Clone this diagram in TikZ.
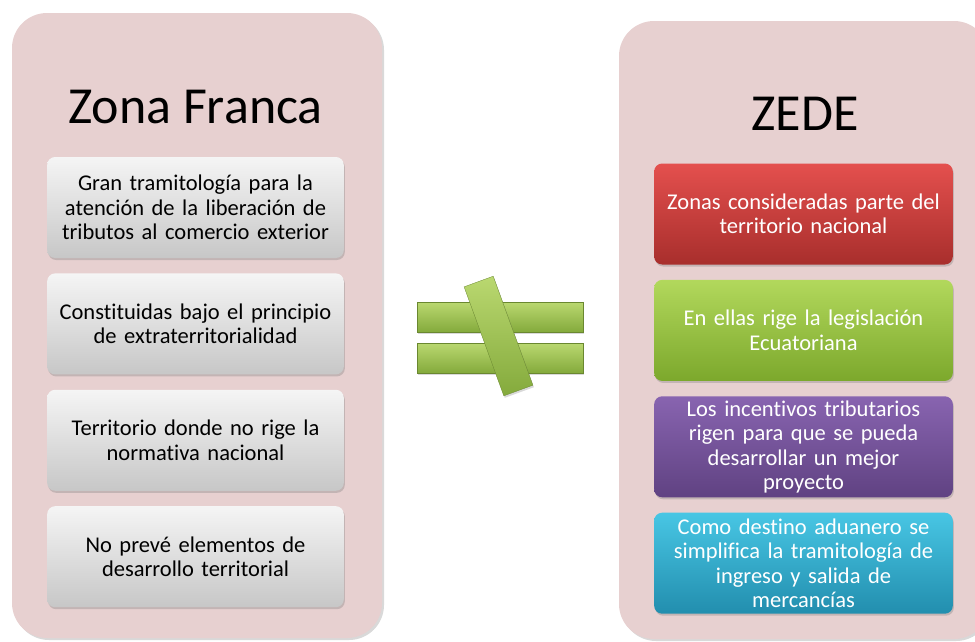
\documentclass[tikz,border=0pt]{standalone}
\usepackage{fontspec}
\setmainfont{Carlito}[Ligatures=CommonOff]
\usetikzlibrary{positioning,shadows}

\definecolor{panelpink}{RGB}{231,208,208}
\definecolor{redtop}{RGB}{228,80,78}
\definecolor{redbot}{RGB}{168,46,44}
\definecolor{greentop}{RGB}{178,216,92}
\definecolor{greenbot}{RGB}{124,168,44}
\definecolor{purpletop}{RGB}{136,100,176}
\definecolor{purplebot}{RGB}{96,66,130}
\definecolor{cyantop}{RGB}{72,198,228}
\definecolor{cyanbot}{RGB}{34,142,174}
\definecolor{signtop}{RGB}{186,216,112}
\definecolor{signbot}{RGB}{132,170,60}

\begin{document}
\begin{tikzpicture}
[x=1pt,y=-1pt%
,node distance=15pt%
,panel/.style={fill=panelpink,%
	rounded corners=35pt,%
	minimum width=370pt,%
	drop shadow={opacity=0.3,shadow xshift=2pt,shadow yshift=-2pt}}%
,title/.style={font=\fontsize{52}{60}\selectfont}%
,fzbox/.style={rounded corners=8pt,%
	minimum width=295pt,%
	minimum height=101pt,%
	text width=290pt,%
	align=center,%
	font=\fontsize{22.5}{24.5}\selectfont,%
	top color=white!96!black,%
	bottom color=white!78!black,%
	drop shadow={opacity=0.35,shadow xshift=1pt,shadow yshift=-2pt}}%
,zdbox/.style={fzbox,%
	minimum width=297pt,%
	text width=292pt,%
	text=white}%
,signbar/.style={top color=signtop,%
	bottom color=signbot,%
	draw=signbot!80!black,%
	line width=0.3pt,%
	drop shadow={opacity=0.3,shadow xshift=1pt,shadow yshift=-2pt}}]
\clip (0,0) rectangle (975,641);
% panels
\node[panel,minimum height=625pt] (fz) at (197,325.5) {};
\node[panel,minimum height=618pt] (zd) at (804,330) {};
\node[title] (fztitle) at (195.5,107) {Zona Franca};
\node[title] (zdtitle) at (805,114) {ZEDE};
% zona franca
\node[fzbox] (fz1) at (195.5,207.5) {Gran tramitología para la\\atención de la liberación de\\tributos al comercio exterior};
\node[fzbox,below=of fz1] (fz2) {Constituidas bajo el principio\\de extraterritorialidad};
\node[fzbox,below=of fz2] (fz3) {Territorio donde no rige la\\normativa nacional};
\node[fzbox,below=of fz3] (fz4) {No prevé elementos de\\desarrollo territorial};
% zede
\node[zdbox,top color=redtop,bottom color=redbot] (zd1) at (803.5,214) {Zonas consideradas parte del\\territorio nacional};
\node[zdbox,top color=greentop,bottom color=greenbot,below=of zd1] (zd2) {En ellas rige la legislación\\Ecuatoriana};
\node[zdbox,top color=purpletop,bottom color=purplebot,below=of zd2] (zd3) {Los incentivos tributarios\\rigen para que se pueda\\desarrollar un mejor\\proyecto};
\node[zdbox,top color=cyantop,bottom color=cyanbot,below=of zd3] (zd4) {Como destino aduanero se\\simplifica la tramitología de\\ingreso y salida de\\mercancías};
% not equal
\node[signbar,minimum width=166pt,minimum height=30pt] (bar1) at (500,317) {};
\node[signbar,minimum width=166pt,minimum height=30pt] (bar2) at (500,358) {};
\node[signbar,minimum width=31pt,minimum height=116pt,rotate=20] (slash) at (498.5,336) {};
\end{tikzpicture}
\end{document}
